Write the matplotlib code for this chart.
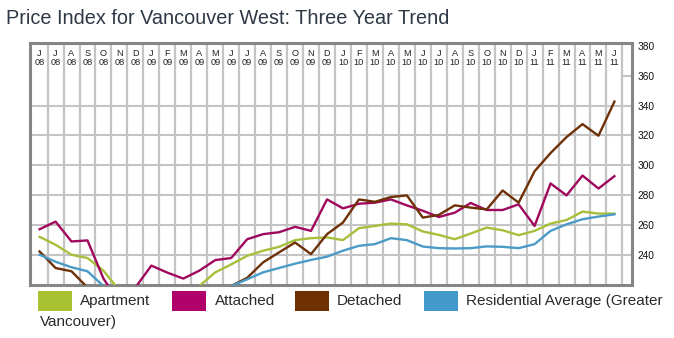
import numpy as np
import matplotlib.pyplot as plt
from matplotlib.patches import Rectangle

# months Jun 2008 .. Jun 2011
months = ['J','J','A','S','O','N','D','J','F','M','A','M','J','J','A','S','O','N','D',
          'J','F','M','A','M','J','J','A','S','O','N','D','J','F','M','A','M','J']
years = ['08']*7 + ['09']*12 + ['10']*12 + ['11']*6

apartment = [252, 246.7, 240, 237.8, 229.3, 216, 210, 206, 204, 208, 219, 228.2, 233.5,
             239.3, 242.7, 245.3, 249.8, 251.1, 251.6, 249.8, 257.8, 259.3, 260.9, 260.4,
             255.6, 253.3, 250.4, 254.2, 258.2, 256.4, 253.1, 256, 260.9, 263.3, 268.9,
             267.6, 267.6]
attached = [257.1, 262.2, 248.9, 249.6, 224, 208, 218, 232.7, 228, 224, 229.3, 236.4, 237.8,
            250.4, 253.8, 255.1, 258.7, 256, 277.1, 271.1, 274.2, 274.9, 277.1, 273.1,
            269.5, 265.3, 268.2, 274.7, 270, 270, 273.8, 259.3, 287.8, 279.8, 293.1,
            284.4, 292.7]
detached = [242.2, 231.1, 228.9, 218, 205, 198, 196, 200, 203, 206, 210, 215, 219,
            224.5, 234.9, 241.6, 248.2, 240.4, 253.8, 261.6, 277.1, 275.5, 278.7, 279.8,
            264.9, 266.7, 273.1, 271.6, 270.4, 283.1, 274.9, 296, 308.2, 318.9, 327.6,
            319.8, 342.7]
residential = [240, 235.3, 231.6, 228.9, 219, 212, 208, 206, 207, 209, 212, 215, 219,
               223.5, 228.2, 231.1, 234, 236.5, 238.7, 242.7, 246, 247.1, 251.1, 249.8,
               245.5, 244.4, 244.2, 244.4, 245.6, 245.3, 244.4, 247.1, 256, 260.4, 263.8,
               265.6, 267.1]

series_names = ['Apartment', 'Attached', 'Detached', 'Residential Average (Greater']
line_colors = ['#a6c03c', '#a0085e', '#6e3006', '#4a9bc8']
patch_colors = ['#a8c232', '#b0006a', '#6e3000', '#4499cc']
yticks = [240, 260, 280, 300, 320, 340, 360, 380]

plt.rcParams['font.family'] = ['Liberation Sans', 'DejaVu Sans']

fig = plt.figure(figsize=(6.74, 3.38), dpi=100)
W, H = 674, 338
ax = fig.add_axes([30/W, 1-285/H, 602/W, 242/H])

x = np.arange(len(months))
ax.set_xlim(-0.6, 37.1)
ax.set_ylim(219.7, 382)

# grid
grid_c = '#c4c4c4'
for v in yticks[:-2]:
    ax.axhline(v, color=grid_c, lw=1.5, zorder=1)
ax.hlines(360, 36.5, 37.1, color=grid_c, lw=1.5, zorder=1)
for b in x + 0.5:
    ax.axvline(b, color=grid_c, lw=1.6, zorder=1)

# month header
for i, (m, yy) in enumerate(zip(months, years)):
    ax.text(i, 375, m, ha='center', va='center', fontsize=6.6, color='#222222')
    ax.text(i, 368.8, yy, ha='center', va='center', fontsize=6.6, color='#222222')

for data, c in zip([apartment, attached, detached, residential], line_colors):
    ax.plot(x, data, color=c, lw=1.7, zorder=3, clip_on=True)

ax.set_xticks([])
ax.yaxis.tick_right()
ax.set_yticks(yticks)
ax.set_yticklabels([str(v) for v in yticks], fontsize=7.3)
ax.tick_params(axis='y', length=0, pad=4, labelcolor='#111111')
for s in ax.spines.values():
    s.set_color('#868686')
    s.set_linewidth(2.2)

fig.text(6/W, 1-19/H, 'Price Index for Vancouver West: Three Year Trend',
         fontsize=14.3, color='#2e3846', va='center', ha='left')

# legend
patch_x = [38, 172, 295, 424]
text_x = [80, 215, 337, 466]
for px, tx, name, c in zip(patch_x, text_x, series_names, patch_colors):
    fig.patches.append(Rectangle((px/W, 1-311/H), 34/W, 20/H, transform=fig.transFigure,
                                 facecolor=c, edgecolor='none'))
    fig.text(tx/W, 1-301/H, name, fontsize=11, color='#2a2a2a', va='center', ha='left')
fig.text(40/W, 1-322/H, 'Vancouver)', fontsize=11, color='#2a2a2a', va='center', ha='left')

fig.savefig('out.png', dpi=100)
